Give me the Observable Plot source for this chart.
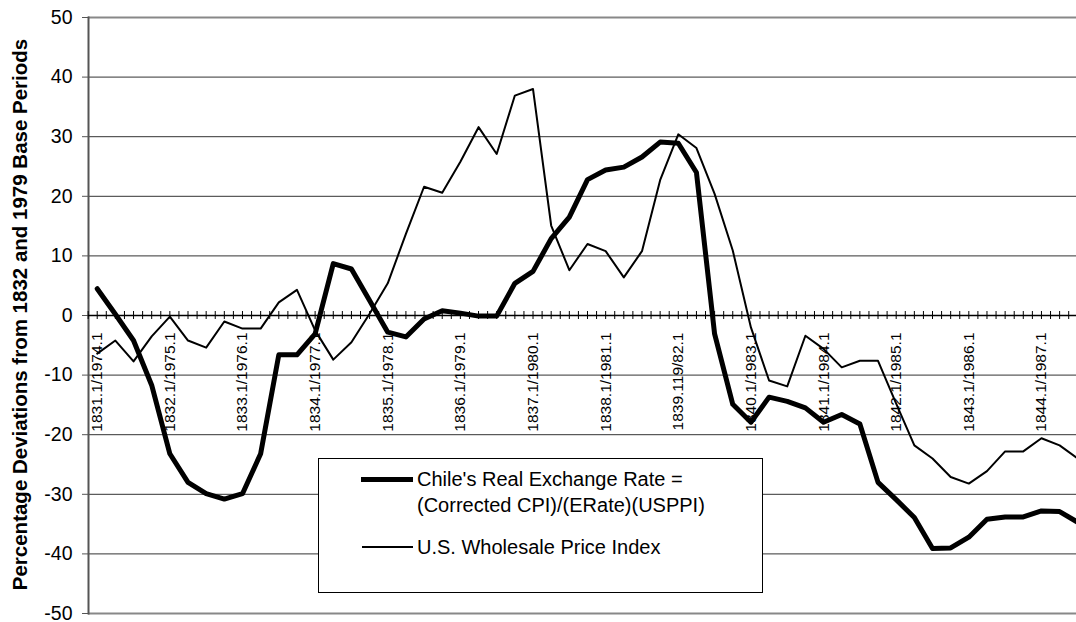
<!DOCTYPE html>
<html>
<head>
<meta charset="utf-8">
<script src="https://cdn.jsdelivr.net/npm/d3@7"></script>
<script src="https://cdn.jsdelivr.net/npm/@observablehq/plot@0.6"></script>
<style>
  body { margin: 0; background: #fff; font-family: "Liberation Sans", Arial, sans-serif; }
  #wrap { position: relative; width: 1076px; height: 622px; overflow: hidden; }
  #wrap svg { overflow: visible; }
  #legend { position: absolute; left: 318px; top: 458px; width: 443px; height: 133px;
            border: 1px solid #000; background: #fff; color: #000; font-size: 20px; }
  #legend .sw { position: absolute; background: #000; }
  #legend .tx { position: absolute; line-height: 26px; white-space: nowrap; }
</style>
</head>
<body>
<div id="wrap"></div>
<script>
// Quarterly index 0 = 1831.1 / 1974.1
const chileRER = [4.5, 0.2, -4.2, -11.7, -23.2, -28.0, -29.9, -30.8, -29.9, -23.2,
  -6.6, -6.6, -3.1, 8.7, 7.8, 2.5, -2.8, -3.6, -0.6, 0.8,
  0.4, -0.1, -0.1, 5.4, 7.4, 12.9, 16.5, 22.8, 24.4, 24.9,
  26.6, 29.1, 28.9, 24.0, -3.1, -14.9, -17.9, -13.7, -14.4, -15.5,
  -17.9, -16.6, -18.2, -28.0, -30.9, -33.9, -39.1, -39.0, -37.2, -34.2,
  -33.8, -33.8, -32.8, -32.9, -34.7];
const usWPI = [-6.4, -4.2, -7.7, -3.5, -0.2, -4.2, -5.4, -1.0, -2.2, -2.2,
  2.2, 4.3, -2.5, -7.4, -4.5, 0.3, 5.4, 13.7, 21.6, 20.6,
  25.8, 31.6, 27.1, 36.9, 38.0, 15.1, 7.6, 12.0, 10.8, 6.4,
  10.8, 22.7, 30.4, 28.1, 20.4, 10.9, -2.0, -10.9, -11.9, -3.4,
  -5.6, -8.7, -7.6, -7.6, -14.8, -21.8, -24.0, -27.1, -28.2, -26.1,
  -22.8, -22.8, -20.6, -21.8, -24.0];
const tickLabels = ["1831.1/1974.1", "1832.1/1975.1", "1833.1/1976.1", "1834.1/1977.1",
  "1835.1/1978.1", "1836.1/1979.1", "1837.1/1980.1", "1838.1/1981.1", "1839.119/82.1",
  "1840.1/1983.1", "1841.1/1984.1", "1842.1/1985.1", "1843.1/1986.1", "1844.1/1987.1"];
const yTicks = [-50, -40, -30, -20, -10, 0, 10, 20, 30, 40, 50];
const yTitle = "Percentage Deviations from 1832 and 1979 Base Periods";
const seriesNames = ["Chile's Real Exchange Rate =\n(Corrected CPI)/(ERate)(USPPI)", "U.S. Wholesale Price Index"];

const chileData = chileRER.map((v, i) => ({i, v}));
const usData = usWPI.map((v, i) => ({i, v}));
const labelIdx = tickLabels.map((_, k) => k * 4);
const tickPos = d3.range(-1, 110).map(k => k / 2);

const chart = Plot.plot({
  width: 1076,
  height: 622,
  marginLeft: 88,
  marginRight: 0,
  marginTop: 17,
  marginBottom: 9,
  style: { fontFamily: "Liberation Sans, Arial, sans-serif", background: "#fff", color: "#000", overflow: "visible" },
  x: { type: "linear", domain: [-0.48, 53.93], axis: null },
  y: { domain: [-50, 50], axis: null },
  marks: [
    Plot.ruleY(yTicks.filter(v => v !== 0 && Math.abs(v) < 50), { stroke: "#333", strokeWidth: 1 }),
    Plot.ruleY([-50, 50], { stroke: "#888", strokeWidth: 2 }),
    Plot.frame({ anchor: "left", stroke: "#555", strokeWidth: 2 }),
    Plot.axisY({ ticks: yTicks, tickSize: 6, tickPadding: 10, fontSize: 19.5, label: null, stroke: "#555", tickFormat: d => String(d) }),
    Plot.text([yTitle], { frameAnchor: "left", textAnchor: "middle", rotate: -90, dx: -68, dy: -1, fontWeight: "bold", fontSize: 20.5 }),
    Plot.ruleY([0], { stroke: "#000", strokeWidth: 1.5 }),
    Plot.ruleX(tickPos, { x: d => d, y1: 0, y2: 0, insetTop: -4, insetBottom: -4, stroke: "#000", strokeWidth: 1 }),
    Plot.text(labelIdx, { x: d => d, y: 0, text: (d, k) => tickLabels[k], rotate: -90, textAnchor: "end", dy: 17, fontSize: 15.5, fill: "#000" }),
    Plot.line(usData, { x: "i", y: "v", stroke: "#000", strokeWidth: 2, strokeLinejoin: "round", clip: true }),
    Plot.line(chileData, { x: "i", y: "v", stroke: "#000", strokeWidth: 5, strokeLinejoin: "round", clip: true })
  ]
});

const wrap = document.getElementById("wrap");
wrap.appendChild(chart);

const legend = document.createElement("div");
legend.id = "legend";
const lines1 = seriesNames[0].split("\n");
legend.innerHTML =
  `<div class="sw" style="left:42px;top:17.5px;width:52px;height:5px"></div>` +
  `<div class="tx" style="left:98px;top:7px">${lines1[0]}<br>${lines1[1]}</div>` +
  `<div class="sw" style="left:43px;top:87px;width:51px;height:2px"></div>` +
  `<div class="tx" style="left:98px;top:75px">${seriesNames[1]}</div>`;
wrap.appendChild(legend);
</script>
</body>
</html>
